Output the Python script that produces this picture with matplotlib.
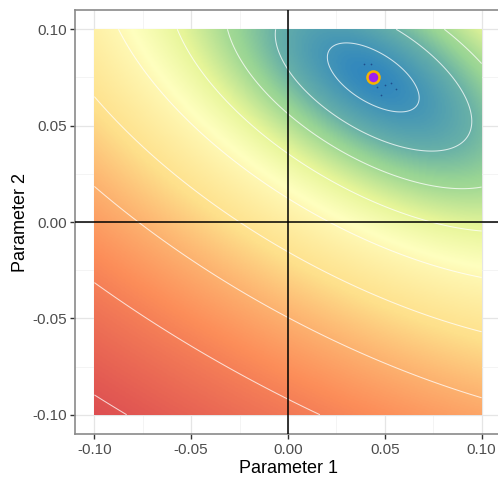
import numpy as np
import matplotlib
matplotlib.use("Agg")
import matplotlib.pyplot as plt
from matplotlib.colors import LinearSegmentedColormap

plt.rcParams["font.family"] = ["Liberation Sans", "DejaVu Sans"]

# optimum and the few path points around it
best = (0.044, 0.075)
best_level = 0.6   # surface value at the optimum, in contour steps
log_step = 2.0     # contour steps per unit of log(1 + bowl)
path_x = [0.039, 0.043, 0.046, 0.050, 0.053, 0.056, 0.048]
path_y = [0.082, 0.082, 0.070, 0.071, 0.072, 0.069, 0.066]

# where each contour line crosses (inner -> outer)
c1 = [(0.021, 0.084), (0.067, 0.065), (0.030, 0.090), (0.059, 0.057), (0.044, 0.063),
      (0.052, 0.085), (0.030, 0.062), (0.028, 0.072)]
c2 = [(0.044, 0.045), (0.008, 0.075), (-0.004, 0.089), (-0.006, 0.100), (0.053, 0.100),
      (0.095, 0.053), (0.075, 0.036), (0.028, 0.053), (0.060, 0.037)]
c3 = [(0.044, 0.029), (-0.017, 0.075), (-0.028, 0.089), (-0.007, 0.063), (-0.032, 0.100),
      (0.082, 0.100), (0.099, 0.083), (0.097, 0.017), (0.028, 0.036), (0.060, 0.022)]
c4 = [(0.044, 0.011), (-0.042, 0.075), (-0.052, 0.089), (-0.035, 0.063), (-0.058, 0.100),
      (0.099, -0.004), (0.052, 0.006), (0.028, 0.018), (0.060, 0.005)]
c5 = [(0.044, -0.009), (-0.069, 0.075), (-0.080, 0.089), (-0.061, 0.063), (-0.089, 0.100),
      (0.099, -0.029), (0.006, 0.006), (0.028, -0.003), (0.060, -0.015)]
c6 = [(0.044, -0.037), (-0.101, 0.065), (-0.034, 0.006), (0.001, -0.011), (0.099, -0.057)]
c7 = [(0.044, -0.070), (-0.101, 0.020), (-0.084, 0.006), (0.001, -0.051), (0.099, -0.091)]
c8 = [(-0.101, -0.030), (0.001, -0.094), (0.011, -0.099)]
c9 = [(-0.101, -0.090), (-0.086, -0.099)]
contour_pts = [c1, c2, c3, c4, c5, c6, c7, c8, c9]
levels = [1, 2, 3, 4, 5, 6, 7, 8, 9]

fill_levels = [0.6, 1, 2, 3, 4, 5, 6, 7, 8, 9, 9.6]
fill_pos = [0.0, 0.03, 0.09, 0.19, 0.35, 0.54, 0.65, 0.76, 0.86, 0.95, 1.0]

ticks = [-0.10, -0.05, 0.00, 0.05, 0.10]
tick_labels = ["-0.10", "-0.05", "0.00", "0.05", "0.10"]
spectral = ["#3288BD", "#99D594", "#E6F598", "#FFFFBF", "#FEE08B", "#FC8D59", "#D53E4F"]


def features(dx, dy):
    u, v = dx / 0.1, dy / 0.1
    return np.stack([u * u, u * v, v * v,
                     u ** 3, u * u * v, u * v * v, v ** 3], axis=-1)


# surface through the read crossings:
# level = best_level + log_step * log(1 + P), P a (mostly quadratic) bowl
px, py, pk = [], [], []
for k, pts in zip(levels, contour_pts):
    for x, y in pts:
        px.append(x)
        py.append(y)
        pk.append(k)
px, py, pk = np.array(px), np.array(py), np.array(pk, dtype=float)
target = np.exp((pk - best_level) / log_step) - 1
w = 1.0 / (target + 1)
A = features(px - best[0], py - best[1])
coef = np.linalg.lstsq(A * w[:, None], target * w, rcond=None)[0]

xs = np.linspace(-0.1, 0.1, 301)
ys = np.linspace(-0.1, 0.1, 301)
X, Y = np.meshgrid(xs, ys)
P = np.clip(features(X - best[0], Y - best[1]) @ coef, 0, None)
Z = best_level + log_step * np.log1p(P)
fill = np.interp(Z, fill_levels, fill_pos)

cmap = LinearSegmentedColormap.from_list("spec", spectral)

fig = plt.figure(figsize=(4.98, 4.80), dpi=100)
ax = fig.add_axes([75 / 498, 46 / 480, 426 / 498, 424 / 480])

ax.set_xlim(-0.11, 0.11)
ax.set_ylim(-0.11, 0.11)
ax.set_xticks(ticks)
ax.set_xticklabels(tick_labels)
ax.set_yticks(ticks)
ax.set_yticklabels(tick_labels)
ax.set_xticks([-0.075, -0.025, 0.025, 0.075], minor=True)
ax.set_yticks([-0.075, -0.025, 0.025, 0.075], minor=True)
ax.grid(True, which="major", color="#e5e5e5", lw=0.9, zorder=0)
ax.grid(True, which="minor", color="#f0f0f0", lw=0.5, zorder=0)
ax.set_axisbelow(True)
ax.tick_params(which="minor", length=0)
ax.tick_params(which="major", length=3.5, width=1, color="#333333",
               labelsize=11, labelcolor="#4d4d4d")
ax.tick_params(axis="x", pad=3)
ax.tick_params(axis="y", pad=2)
for s in ax.spines.values():
    s.set_color("#8a8a8a")
    s.set_linewidth(1.2)

ax.imshow(fill, origin="lower", extent=(-0.1, 0.1, -0.1, 0.1), cmap=cmap,
          vmin=0, vmax=1, interpolation="bilinear", aspect="auto", zorder=1)
ax.contour(xs, ys, Z, levels=levels, colors="white", linewidths=0.75, alpha=0.75, zorder=2)

ax.axhline(0, color="black", lw=1.1, zorder=3)
ax.axvline(0, color="black", lw=1.1, zorder=3)

ax.scatter(path_x, path_y, s=1.5, color="#1f4e8c", zorder=4, linewidths=0)
ax.scatter([best[0]], [best[1]], s=75, color="#a020f0", edgecolors="#f5b300",
           linewidths=1.8, zorder=5)

ax.set_xlabel("Parameter 1", fontsize=13, labelpad=2)
ax.set_ylabel("Parameter 2", fontsize=13, labelpad=3)

fig.savefig("out.png", dpi=100)
